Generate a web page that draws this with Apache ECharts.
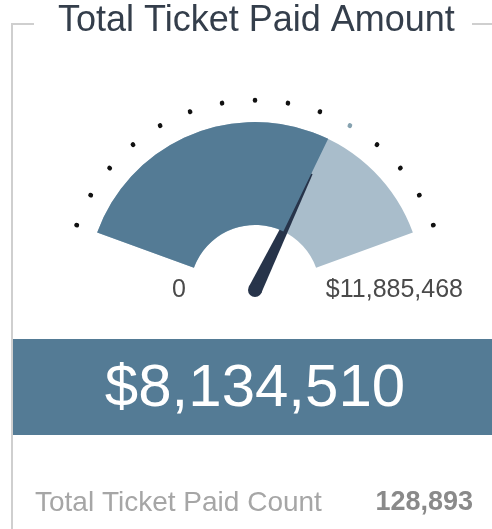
<!DOCTYPE html>
<html>
<head>
<meta charset="utf-8">
<script src="https://cdn.jsdelivr.net/npm/echarts@6/dist/echarts.min.js"></script>
<style>
html,body{margin:0;padding:0;background:#fff;}
#c{width:492px;height:529px;}
</style>
</head>
<body>
<div id="c"></div>
<script>
// ---- data ----
const titleText = 'Total Ticket Paid Amount';
const gaugeMin = 0;
const gaugeMax = 11885468;
const paidAmount = 8134510;
const countLabel = 'Total Ticket Paid Count';
const paidCount = 128893;
const dotCount = 14;          // intervals between the 15 dots
const highlightDot = 10;      // index of the lighter dot

const FONT = '"Liberation Sans", Arial, sans-serif';
const fmt = v => Math.round(v).toLocaleString('en-US');
const money = v => '$' + fmt(v);

const chart = echarts.init(document.getElementById('c'), null, {renderer: 'canvas'});
const center = [255, 290];
const hp = highlightDot / dotCount;

const option = {
  backgroundColor: '#ffffff',
  animation: false,
  graphic: [
    {type: 'polyline', z: 1, shape: {points: [[34, 24], [12, 24], [12, 529]]},
      style: {stroke: '#cfcfcf', lineWidth: 2, fill: null}},
    {type: 'line', z: 1, shape: {x1: 472, y1: 24, x2: 492, y2: 24},
      style: {stroke: '#cfcfcf', lineWidth: 2}},
    {type: 'text', z: 2, x: 58, y: 21,
      style: {text: titleText, fill: '#343e4b', font: '36px ' + FONT, verticalAlign: 'middle', align: 'left'}},
    {type: 'rect', z: 0, shape: {x: 12, y: 339, width: 480, height: 96},
      style: {fill: '#547b95'}},
    {type: 'text', z: 2, x: 35, y: 503,
      style: {text: countLabel, fill: '#a6a6a6', font: '28px ' + FONT, verticalAlign: 'middle', align: 'left'}},
    {type: 'text', z: 2, x: 473, y: 503,
      style: {text: fmt(paidCount), fill: '#8a8a8a', font: 'bold 27px ' + FONT, verticalAlign: 'middle', align: 'right'}}
  ],
  series: [
    {
      type: 'gauge', z: 3,
      center: center, radius: 168,
      startAngle: 160, endAngle: 20,
      min: gaugeMin, max: gaugeMax,
      axisLine: {lineStyle: {width: 103, color: [[1, '#a9bdcb']]}},
      progress: {show: true, width: 103, roundCap: false, itemStyle: {color: '#547b95'}},
      splitLine: {show: false}, axisTick: {show: false}, axisLabel: {show: false},
      pointer: {show: true, icon: 'path://M4 0 L6 0 L10 100 L0 100 Z', length: '77%', width: 14,
        itemStyle: {color: '#27344a'}},
      anchor: {show: true, showAbove: true, size: 14, itemStyle: {color: '#27344a', borderWidth: 0}},
      title: {show: false},
      detail: {show: true, offsetCenter: [0, 99], formatter: money, color: '#ffffff',
        fontSize: 60, fontFamily: FONT, fontWeight: 'normal'},
      data: [{value: paidAmount}]
    },
    {
      type: 'gauge', z: 2,
      center: center, radius: 190,
      startAngle: 160, endAngle: 20,
      min: 0, max: dotCount, splitNumber: dotCount,
      axisLine: {show: false, lineStyle: {width: 0, color: [[hp - 0.02, '#111111'], [hp + 0.02, '#86a2b0'], [1, '#111111']]}},
      splitLine: {show: true, distance: 0, length: 0.5, lineStyle: {width: 4.5, cap: 'round', color: 'auto'}},
      axisTick: {show: false}, axisLabel: {show: false},
      pointer: {show: false}, anchor: {show: false}, title: {show: false}, detail: {show: false},
      data: [{value: 0}]
    },
    {
      type: 'gauge', z: 2,
      center: center, radius: 83,
      startAngle: 180, endAngle: 0,
      min: gaugeMin, max: gaugeMax, splitNumber: 1,
      axisLine: {show: false, lineStyle: {width: 0}},
      splitLine: {show: false, distance: 0, length: 0},
      axisTick: {show: false},
      axisLabel: {show: true, distance: 0, fontSize: 25, fontFamily: FONT, color: '#4a4a4a',
        formatter: v => (v === gaugeMin ? fmt(v) : '')},
      pointer: {show: false}, anchor: {show: false}, title: {show: false}, detail: {show: false},
      data: [{value: 0}]
    },
    {
      type: 'gauge', z: 2,
      center: center, radius: 208,
      startAngle: 180, endAngle: 0,
      min: gaugeMin, max: gaugeMax, splitNumber: 1,
      axisLine: {show: false, lineStyle: {width: 0}},
      splitLine: {show: false, distance: 0, length: 0},
      axisTick: {show: false},
      axisLabel: {show: true, distance: 0, fontSize: 25, fontFamily: FONT, color: '#4a4a4a',
        formatter: v => (v === gaugeMax ? money(v) : '')},
      pointer: {show: false}, anchor: {show: false}, title: {show: false}, detail: {show: false},
      data: [{value: 0}]
    }
  ]
};
chart.setOption(option);
</script>
</body>
</html>
